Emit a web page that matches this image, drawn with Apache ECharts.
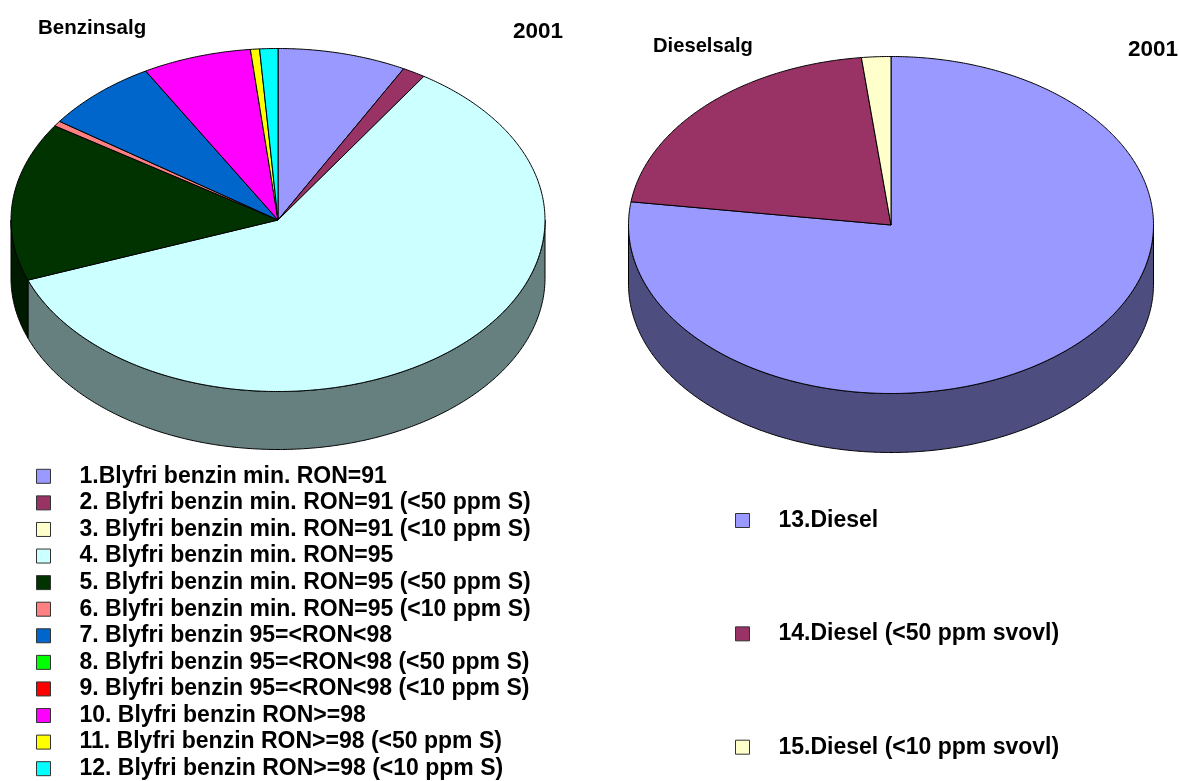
<!DOCTYPE html>
<html>
<head>
<meta charset="utf-8">
<style>html,body{margin:0;padding:0;background:#fff}#c{width:1179px;height:781px}</style>
<script src="https://cdn.jsdelivr.net/npm/echarts@6/dist/echarts.min.js"></script>
</head>
<body>
<div id="c"></div>
<script>
const benzinNames = ['1.Blyfri benzin min. RON=91','2. Blyfri benzin min. RON=91 (<50 ppm S)','3. Blyfri benzin min. RON=91 (<10 ppm S)','4. Blyfri benzin min. RON=95','5. Blyfri benzin min. RON=95 (<50 ppm S)','6. Blyfri benzin min. RON=95 (<10 ppm S)','7. Blyfri benzin 95=<RON<98','8. Blyfri benzin 95=<RON<98 (<50 ppm S)','9. Blyfri benzin 95=<RON<98 (<10 ppm S)','10. Blyfri benzin RON>=98','11. Blyfri benzin RON>=98 (<50 ppm S)','12. Blyfri benzin RON>=98 (<10 ppm S)'];
const benzinValues = [7.8,1.4,0,60.1,14.95,0.5,7.0,0,0,6.6,0.55,1.1];
const benzinColors = ['#9999FF','#993366','#FFFFCC','#CCFFFF','#003300','#FF8080','#0066CC','#00FF00','#FF0000','#FF00FF','#FFFF00','#00FFFF'];
const dieselNames = ['13.Diesel','14.Diesel (<50 ppm svovl)','15.Diesel (<10 ppm svovl)'];
const dieselValues = [77.2,21.0,1.8];
const dieselColors = ['#9999FF','#993366','#FFFFCC'];

const FONT = '"Liberation Sans", Arial, sans-serif';
const shade = c => '#' + [1,3,5].map(i => Math.round(parseInt(c.substr(i,2),16)/2).toString(16).padStart(2,'0')).join('');

function pieSeries(names, values, colors, geo) {
  const total = values.reduce((a,b)=>a+b,0);
  let acc = 0;
  return names.map((name,i) => {
    const start = acc/total*360; acc += values[i];
    const end = acc/total*360;
    return {
      type:'custom', name, coordinateSystem:'none', silent:true,
      itemStyle:{color:colors[i]},
      data:[[values[i]]],
      renderItem(){
        const children = [];
        if (end <= start) return {type:'group',children};
        const pt = (deg,dy) => {
          const a = deg*Math.PI/180;
          return [geo.cx+geo.rx*Math.sin(a), geo.cy-geo.ry*Math.cos(a)+dy];
        };
        const arc = (a,b,dy) => {
          const n = Math.max(2,Math.ceil((b-a)*2)), out=[];
          for(let k=0;k<=n;k++) out.push(pt(a+(b-a)*k/n,dy));
          return out;
        };
        const ws = Math.max(start,90), we = Math.min(end,270);
        if (we > ws) {
          children.push({type:'polygon',z2:1,
            shape:{points:arc(ws,we,0).concat(arc(ws,we,geo.depth).reverse())},
            style:{fill:shade(colors[i]),stroke:'#000',lineWidth:1}});
        }
        children.push({type:'polygon',z2:10,
          shape:{points:[[geo.cx,geo.cy]].concat(arc(start,end,0))},
          style:{fill:colors[i],stroke:'#000',lineWidth:1}});
        return {type:'group',children};
      }
    };
  });
}

const legendText = {fontFamily:FONT,fontWeight:'bold',fontSize:23,color:'#000',padding:[0,0,0,24],lineHeight:14};
const legendBase = {
  orient:'vertical', icon:'rect', itemWidth:14, itemHeight:14,
  selectedMode:false, height:500, padding:0,
  itemStyle:{borderColor:'#333',borderWidth:1},
  textStyle:legendText
};
const titleStyle = size => ({fontFamily:FONT,fontWeight:'bold',fontSize:size,color:'#000'});

const chart = echarts.init(document.getElementById('c'),null,{renderer:'canvas'});
chart.setOption({
  animation:false,
  backgroundColor:'#fff',
  title:[
    {text:'Benzinsalg',left:38,top:18,padding:0,textStyle:titleStyle(20.5)},
    {text:'2001',left:513,top:20,padding:0,textStyle:titleStyle(22.5)},
    {text:'Dieselsalg',left:653,top:36,padding:0,textStyle:titleStyle(20.2)},
    {text:'2001',left:1128,top:38,padding:0,textStyle:titleStyle(22.5)}
  ],
  legend:[
    Object.assign({},legendBase,{data:benzinNames,left:36,top:464.8,itemGap:3.58}),
    Object.assign({},legendBase,{data:dieselNames,left:735,top:509,itemGap:90.35})
  ],
  series:[
    ...pieSeries(benzinNames,benzinValues,benzinColors,{cx:278,cy:220,rx:267,ry:171.5,depth:58}),
    ...pieSeries(dieselNames,dieselValues,dieselColors,{cx:891,cy:225,rx:262.5,ry:168.5,depth:59})
  ]
});
</script>
</body>
</html>
